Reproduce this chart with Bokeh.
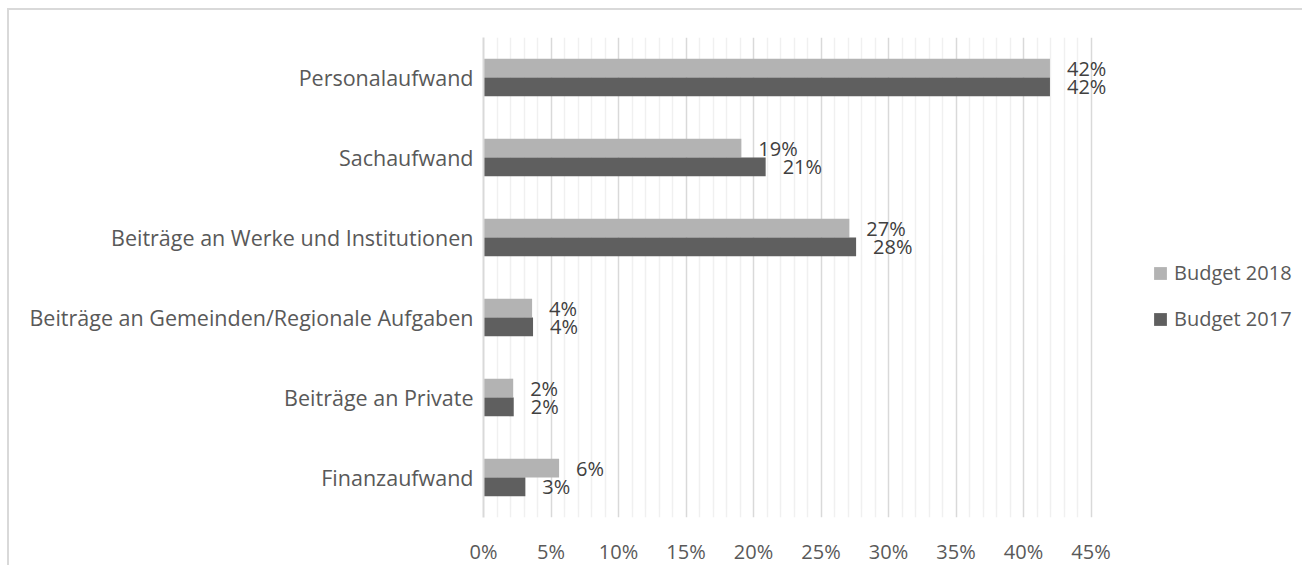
from bokeh.plotting import figure
from bokeh.models import (ColumnDataSource, FactorRange, Range1d, FixedTicker,
                          NumeralTickFormatter, Legend, LegendItem, LabelSet)
from bokeh.transform import dodge
from bokeh.core.properties import value
from bokeh.embed import file_html
from bokeh.resources import INLINE

categories = ["Personalaufwand", "Sachaufwand", "Beiträge an Werke und Institutionen",
              "Beiträge an Gemeinden/Regionale Aufgaben", "Beiträge an Private", "Finanzaufwand"]
budget_2018 = [0.4196, 0.191, 0.271, 0.036, 0.022, 0.056]
budget_2017 = [0.4196, 0.209, 0.276, 0.0367, 0.0224, 0.031]
series_names = ["Budget 2018", "Budget 2017"]
x_ticks = [0.0, 0.05, 0.10, 0.15, 0.20, 0.25, 0.30, 0.35, 0.40, 0.45]
x_minor_ticks = [0.01, 0.02, 0.03, 0.04, 0.06, 0.07, 0.08, 0.09, 0.11, 0.12, 0.13, 0.14,
                 0.16, 0.17, 0.18, 0.19, 0.21, 0.22, 0.23, 0.24, 0.26, 0.27, 0.28, 0.29,
                 0.31, 0.32, 0.33, 0.34, 0.36, 0.37, 0.38, 0.39, 0.41, 0.42, 0.43, 0.44]

FONT = "Open Sans"
C18 = "#b3b3b3"
C17 = "#5f5f5f"

src = ColumnDataSource(dict(
    cat=categories,
    v18=budget_2018,
    v17=budget_2017,
    t18=[f"{v*100:.0f}%" for v in budget_2018],
    t17=[f"{v*100:.0f}%" for v in budget_2017],
))

p = figure(width=1295, height=557, output_backend="svg", toolbar_location=None,
           y_range=FactorRange(*reversed(categories), range_padding=0),
           x_range=Range1d(0, 0.60))
p.margin = (8, 0, 0, 7)
p.min_border_left = 474
p.min_border_right = 11
p.min_border_top = 27
p.min_border_bottom = 45
p.outline_line_color = None
p.background_fill_color = "white"
p.border_fill_color = "white"
p.styles = {"border-top": "2px solid #d9d9d9", "border-left": "2px solid #d9d9d9"}

bh = 0.235
r18 = p.hbar(y=dodge("cat", 0.1175, range=p.y_range), right="v18", left=0, height=bh,
             color=C18, line_color=None, source=src)
r17 = p.hbar(y=dodge("cat", -0.1175, range=p.y_range), right="v17", left=0, height=bh,
             color=C17, line_color=None, source=src)

for col, tcol, off in (("v18", "t18", 0.1175), ("v17", "t17", -0.1175)):
    lab = LabelSet(x=col, y=dodge("cat", off, range=p.y_range), text=tcol, source=src,
                   x_offset=17, text_align="left", text_baseline="middle",
                   text_font=value(FONT), text_font_size="20px", text_color="#404040")
    p.add_layout(lab)

ticker = FixedTicker(ticks=x_ticks, minor_ticks=x_minor_ticks)
p.xaxis.ticker = ticker
p.xaxis.formatter = NumeralTickFormatter(format="0%")
p.xgrid.ticker = ticker
p.xgrid.grid_line_color = "#d9d9d9"
p.xgrid.grid_line_width = 1.5
p.xgrid.minor_grid_line_color = "#f0f0f0"
p.xgrid.minor_grid_line_width = 1.5
p.ygrid.grid_line_color = None

p.xaxis.axis_line_color = None
p.xaxis.major_tick_line_color = None
p.xaxis.minor_tick_line_color = None
p.xaxis.major_tick_out = 0
p.xaxis.major_tick_in = 0
p.xaxis.minor_tick_out = 0
p.xaxis.minor_tick_in = 0
p.xaxis.major_label_standoff = 20
p.xaxis.major_label_text_font = FONT
p.xaxis.major_label_text_font_size = "20px"
p.xaxis.major_label_text_color = "#595959"

p.yaxis.axis_line_color = "#d9d9d9"
p.yaxis.axis_line_width = 2
p.yaxis.major_tick_line_color = None
p.yaxis.minor_tick_line_color = None
p.yaxis.major_tick_out = 0
p.yaxis.major_tick_in = 0
p.yaxis.major_label_standoff = 10
p.yaxis.major_label_text_font = FONT
p.yaxis.major_label_text_font_size = "21.5px"
p.yaxis.major_label_text_color = "#595959"

legend = Legend(items=[LegendItem(label=series_names[0], renderers=[r18]),
                       LegendItem(label=series_names[1], renderers=[r17])],
                location=(669, 185))
legend.border_line_color = None
legend.background_fill_alpha = 0
legend.padding = 0
legend.margin = 0
legend.glyph_width = 16
legend.glyph_height = 16
legend.label_standoff = 6
legend.spacing = 19
legend.label_text_font = FONT
legend.label_text_font_size = "20px"
legend.label_text_color = "#595959"
p.add_layout(legend, "center")

open("out.html", "w").write(file_html(p, INLINE))
